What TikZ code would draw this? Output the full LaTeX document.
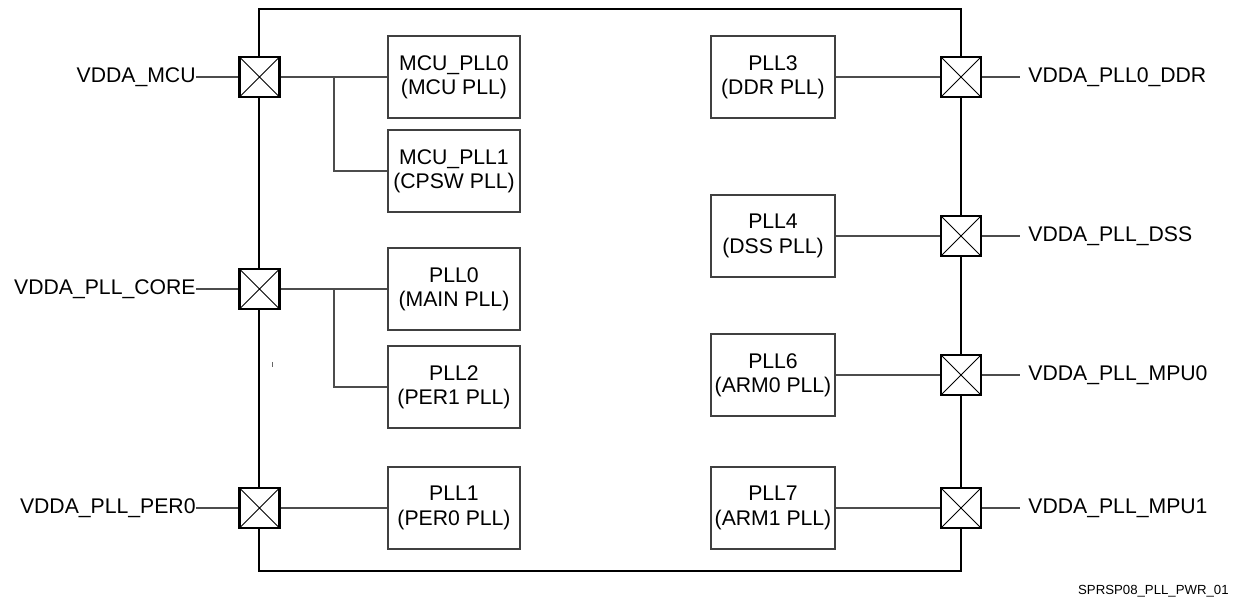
\documentclass[tikz,border=0pt]{standalone}
\usepackage{fontspec}
\setmainfont{Liberation Sans}
\begin{document}
\begin{tikzpicture}[x=0.5pt,y=-0.5pt,
  pllbox/.style={draw=black!75,line width=0.65pt,inner sep=0pt,align=center,font=\fontsize{10.6}{12.2}\selectfont},
  lbox/.style={pllbox,minimum width=66pt,minimum height=41pt},
  rbox/.style={pllbox,minimum width=62pt,minimum height=41pt},
  pad/.style={draw=black,fill=white,line width=1.1pt,minimum size=20pt,inner sep=0pt,
    path picture={\draw[line width=0.45pt] (path picture bounding box.north west) -- (path picture bounding box.south east)
      (path picture bounding box.south west) -- (path picture bounding box.north east);}},
  wire/.style={draw=black!70,line width=0.6pt},
  lbl/.style={inner sep=0pt,font=\fontsize{10.6}{12.2}\selectfont},
  chip/.style={draw=black,line width=1.45pt}]
\useasboundingbox (0,0) rectangle (1237,598);
% outer chip boundary
\draw[chip] (259,9) rectangle (961,571);
% left pads
\node[pad] (pmcu) at (259.5,77) {};
\node[pad] (pcore) at (259.5,289) {};
\node[pad] (pper0) at (259.5,508) {};
% right pads
\node[pad] (pddr) at (961,77) {};
\node[pad] (pdss) at (961,236) {};
\node[pad] (pmpu0) at (961,375) {};
\node[pad] (pmpu1) at (961,508) {};
% left PLL boxes
\node[lbox] (mcu0) at (454,77) {MCU\_PLL0\\(MCU PLL)};
\node[lbox] (mcu1) at (454,171) {MCU\_PLL1\\(CPSW PLL)};
\node[lbox] (pll0) at (454,289) {PLL0\\(MAIN PLL)};
\node[lbox] (pll2) at (454,387) {PLL2\\(PER1 PLL)};
\node[lbox] (pll1) at (454,508) {PLL1\\(PER0 PLL)};
% right PLL boxes
\node[rbox] (pll3) at (773,77) {PLL3\\(DDR PLL)};
\node[rbox] (pll4) at (773,236) {PLL4\\(DSS PLL)};
\node[rbox] (pll6) at (773,375) {PLL6\\(ARM0 PLL)};
\node[rbox] (pll7) at (773,508) {PLL7\\(ARM1 PLL)};
% left labels
\node[lbl,anchor=east] (lmcu) at (196,77) {VDDA\_MCU};
\node[lbl,anchor=east] (lcore) at (196,289) {VDDA\_PLL\_CORE};
\node[lbl,anchor=east] (lper0) at (196,508) {VDDA\_PLL\_PER0};
% right labels
\node[lbl,anchor=west] (lddr) at (1028,77) {VDDA\_PLL0\_DDR};
\node[lbl,anchor=west] (ldss) at (1028,236) {VDDA\_PLL\_DSS};
\node[lbl,anchor=west] (lmpu0) at (1028,375) {VDDA\_PLL\_MPU0};
\node[lbl,anchor=west] (lmpu1) at (1028,508) {VDDA\_PLL\_MPU1};
% branch points
\coordinate (bmcu) at (334,77);
\coordinate (bcore) at (334,289);
% external wires
\draw[wire] (lmcu.east) -- (pmcu.west);
\draw[wire] (lcore.east) -- (pcore.west);
\draw[wire] (lper0.east) -- (pper0.west);
\draw[wire] (pddr.east) -- ++(38,0);
\draw[wire] (pdss.east) -- ++(38,0);
\draw[wire] (pmpu0.east) -- ++(38,0);
\draw[wire] (pmpu1.east) -- ++(38,0);
% internal wires
\draw[wire] (pmcu.east) -- (mcu0.west);
\draw[wire] (bmcu) |- (mcu1.west);
\draw[wire] (pcore.east) -- (pll0.west);
\draw[wire] (bcore) |- (pll2.west);
\draw[wire] (pper0.east) -- (pll1.west);
\draw[wire] (pll3.east) -- (pddr.west);
\draw[wire] (pll4.east) -- (pdss.west);
\draw[wire] (pll6.east) -- (pmpu0.west);
\draw[wire] (pll7.east) -- (pmpu1.west);
% small stray tick
\draw[black!60,line width=0.5pt] (272,362) -- (272,367);
% figure id
\node[lbl,anchor=east,font=\fontsize{6.6}{8}\selectfont] (fid) at (1229,591) {SPRSP08\_PLL\_PWR\_01};
\end{tikzpicture}
\end{document}
